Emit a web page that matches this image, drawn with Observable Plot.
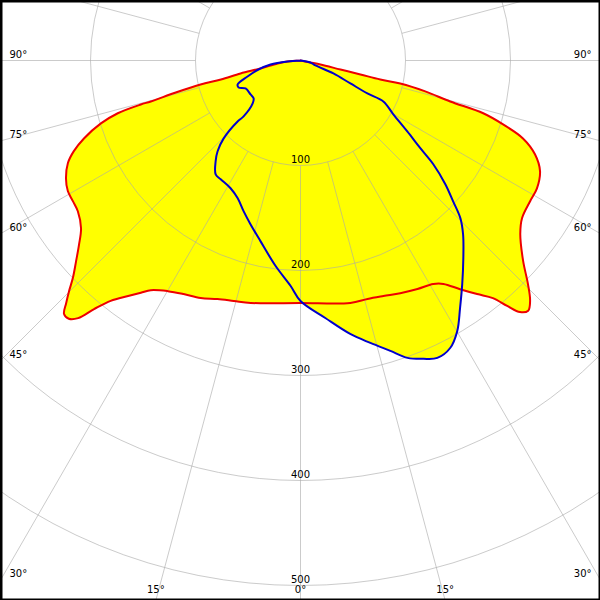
<!DOCTYPE html>
<html>
<head>
<meta charset="utf-8">
<script src="https://cdn.jsdelivr.net/npm/d3@7"></script>
<script src="https://cdn.jsdelivr.net/npm/@observablehq/plot@0.6"></script>
<style>
  body { margin: 0; background: #fff; }
  #chart { width: 600px; height: 600px; overflow: hidden; }
  #chart svg { display: block; }
</style>
</head>
<body>
<div id="chart"></div>
<script>
// C0-C180 plane (red, filled) : signed gamma angle (negative = left side), intensity (cd)
const redAngle = [-90,-85.6,-82.6,-78.7,-77.8,-76.6,-76.5,-75.6,-74.7,-74.6,-73.9,-72.5,-70.2,-68.2,-66.2,-63.3,-60.7,-58.3,-55.9,-52.6,-50.3,-48.2,-46.3,-45.1,-44.0,-43.0,-41.9,-40.8,-39.7,-38.3,-36.2,-34.5,-33.1,-29.9,-26.6,-22.8,-19.2,-15.5,-11.6,0,11.6,15.7,19.4,23.2,27.1,30.7,32.6,34.9,37.1,39.0,40.1,41.1,42.3,43.7,45.5,48.0,51.7,54.6,58.5,61.6,65.2,68.2,70.7,72.5,73.9,74.7,76.1,77.0,76.6,76.9,77.3,78.7,78.7,90];
const redValue = [0,12.4,21.9,39.0,58.4,77.9,97.9,122.6,147.8,157.8,181.1,199.3,219.2,232.5,242.1,250.0,254.1,254.8,256.1,263.1,274.1,286.7,299.9,311.2,321.3,330.2,330.4,324.1,307.8,291.7,278.0,268.4,261.1,253.4,248.7,245.4,240.5,237.6,235.7,231.0,235.8,235.9,237.8,241.1,244.5,247.6,252.6,265.6,278.9,291.2,305.6,318.0,322.2,316.5,303.7,285.3,266.7,258.9,256.5,256.0,251.3,240.5,224.5,202.3,181.1,147.8,122.4,97.5,78.1,58.6,39.0,19.4,9.5,0];

// C90-C270 plane (blue)
const blueAngle = [-90,-85.6,-82.4,-77.9,-73.2,-69.1,-66.5,-63.0,-55.8,-51.1,-48.1,-45.5,-45.9,-44.6,-42.4,-40.1,-36.7,-33.9,-28.7,-24.5,-20.7,-17.0,-12.5,-6.9,-2.5,0,5.5,10.3,13.9,17.2,19.8,22.4,24.7,27.5,30.1,32.8,35.9,39.5,43.1,45.4,47.3,49.5,52.0,53.8,56.4,59.9,63.7,63.8,65.3,68.5,71.6,78.7,90];
const blueValue = [0,12.4,28.8,40.9,52.7,64.1,64.3,58.7,57.5,57.4,61.2,76.0,83.4,104.2,117.1,125.5,135.2,136.3,138.7,144.2,153.4,163.0,176.2,197.2,215.0,229.1,246.4,264.7,277.1,289.5,301.0,307.3,311.8,308.7,297.7,280.5,262.7,243.8,226.6,213.8,197.8,181.4,160.5,141.4,122.1,102.2,88.0,71.0,52.3,33.7,15.0,9.5,0];

// grid
const ringValues = [100, 200, 300, 400, 500];
const spokeAngles = [0,15,30,45,60,75,90,105,120,135,150,165,180,-165,-150,-135,-120,-105,-90,-75,-60,-45,-30,-15];
const sideLabelAngles = [90, 75, 60, 45, 30];
const bottomLabelAngles = [-15, 0, 15];

const W = 600, H = 600, CX = 300, CY = 60, K = 1.05; // K: pixels per cd
const xMin = -CX / K, xMax = (W - CX) / K, yMin = -CY / K, yMax = (H - CY) / K;

const rad = a => a * Math.PI / 180;
const px = (a, v) => v * Math.sin(rad(a));
const py = (a, v) => v * Math.cos(rad(a));

const red = redAngle.map((a, i) => ({a, v: redValue[i]}));
const blue = blueAngle.map((a, i) => ({a, v: blueValue[i]}));

const grid = {stroke: "#a8a8a8", strokeOpacity: 0.6, strokeWidth: 1};
const X = d => px(d.a, d.v), Y = d => py(d.a, d.v);
const curve = "catmull-rom";

const chart = Plot.plot({
  width: W, height: H, margin: 0,
  style: {fontFamily: "'DejaVu Sans', Verdana, sans-serif", fontSize: "10px", background: "white", color: "black"},
  x: {domain: [xMin, xMax], range: [0, W], axis: null},
  y: {domain: [yMin, yMax], range: [0, H], axis: null},
  r: {type: "linear", domain: [0, 500], range: [0, 500 * K]},
  marks: [
    Plot.line(red, {x: X, y: Y, curve, fill: "#ffff00", stroke: "none"}),
    Plot.line(blue, {x: X, y: Y, curve, fill: "#ffff00", stroke: "none"}),
    Plot.dot(ringValues, {x: () => 0, y: () => 0, r: d => d, fill: "none", ...grid, clip: true}),
    Plot.link(spokeAngles, {x1: a => px(a, 100), y1: a => py(a, 100), x2: a => px(a, 900), y2: a => py(a, 900), ...grid, clip: true}),
    Plot.line(red, {x: X, y: Y, curve, stroke: "#ee0000", strokeWidth: 2}),
    Plot.line(blue, {x: X, y: Y, curve, stroke: "#0000cc", strokeWidth: 2}),
    Plot.text(ringValues, {x: () => 0, y: d => d, text: d => String(d), lineAnchor: "bottom", dy: -3, fill: "black"}),
    Plot.text(sideLabelAngles, {x: () => xMin, y: a => -xMin * Math.cos(rad(a)) / Math.sin(rad(a)), text: a => `${a}°`, textAnchor: "start", lineAnchor: "bottom", dx: 9, dy: -3, fill: "black"}),
    Plot.text(sideLabelAngles, {x: () => xMax, y: a => xMax * Math.cos(rad(a)) / Math.sin(rad(a)), text: a => `${a}°`, textAnchor: "end", lineAnchor: "bottom", dx: -9, dy: -3, fill: "black"}),
    Plot.text(bottomLabelAngles, {x: a => yMax * Math.tan(rad(a)), y: () => yMax, text: a => `${Math.abs(a)}°`, textAnchor: "middle", lineAnchor: "bottom", dy: -8, fill: "black"}),
    Plot.frame({stroke: "black", strokeWidth: 4})
  ]
});
document.getElementById("chart").appendChild(chart);
</script>
</body>
</html>
